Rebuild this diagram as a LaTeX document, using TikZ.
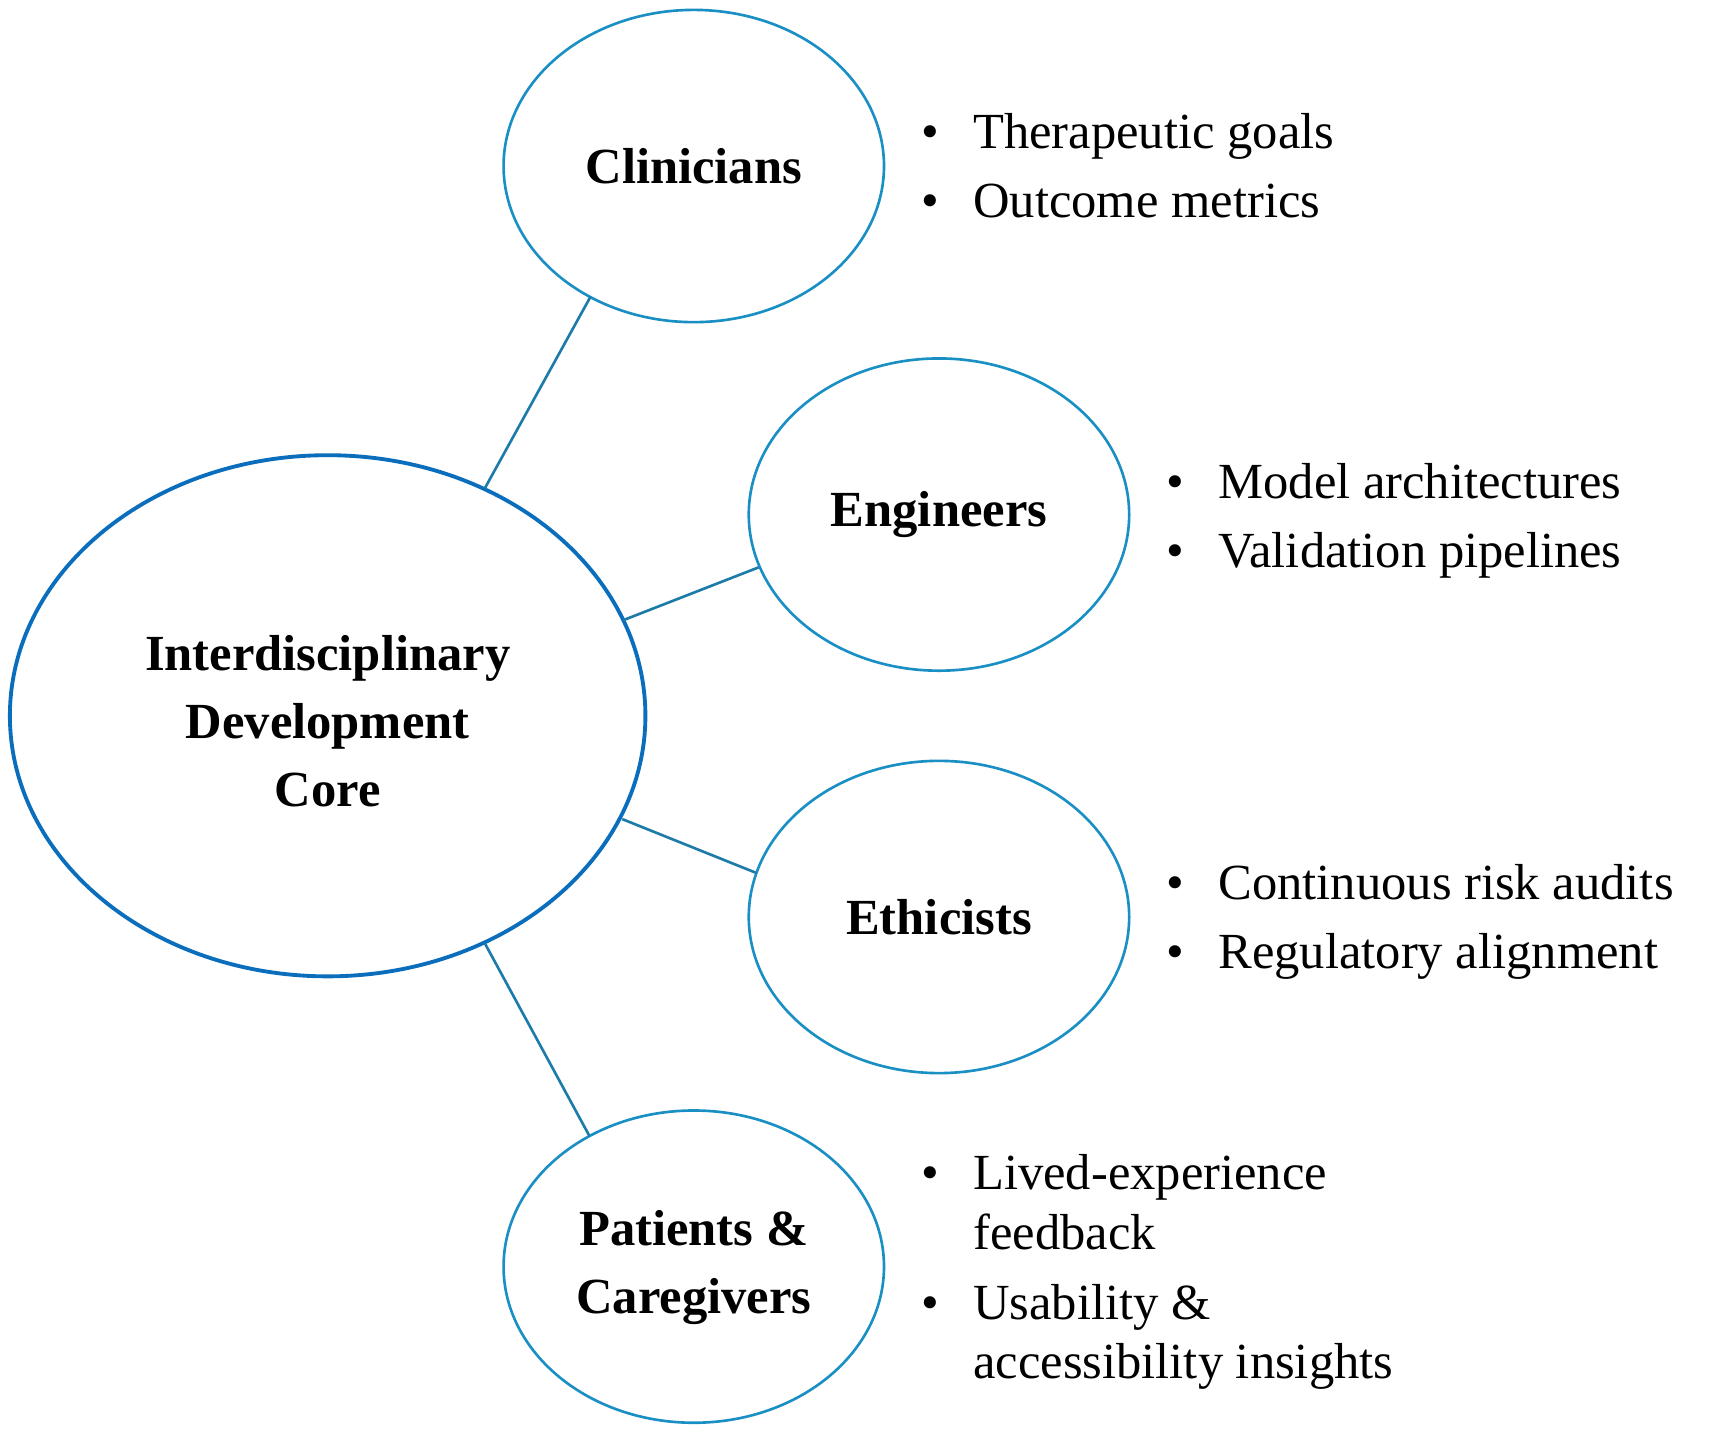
\documentclass[tikz,border=0pt]{standalone}
\usepackage{fontspec}
\setmainfont{Liberation Serif}
\begin{document}
\begin{tikzpicture}[x=1pt,y=-1pt,
  sub/.style={draw=subc,line width=2.4pt,ellipse,minimum width=346pt,minimum height=284pt},
  lbl/.style={font=\fontsize{46}{62}\selectfont\bfseries,align=center},
  item/.style={anchor=base west,font=\fontsize{46}{54}\selectfont,inner sep=0pt},
  conn/.style={draw=linec,line width=2.4pt}]
\definecolor{mainc}{HTML}{0A6EBD}
\definecolor{subc}{HTML}{1A8FC4}
\definecolor{linec}{HTML}{1C7BA8}
\useasboundingbox (0,0) rectangle (1568,1304);
\draw[mainc,line width=3.5pt] (298,651) ellipse [x radius=289,y radius=237];
\node[lbl] (core) at (298,656) {Interdisciplinary\\Development\\Core};
\draw[subc,line width=2.4pt] (631,151) ellipse [x radius=173,y radius=142];
\draw[subc,line width=2.4pt] (854,468) ellipse [x radius=173,y radius=142];
\draw[subc,line width=2.4pt] (854,834) ellipse [x radius=173,y radius=142];
\draw[subc,line width=2.4pt] (631,1152) ellipse [x radius=173,y radius=142];
\node[lbl] (cl) at (631,151) {Clinicians};
\node[lbl] (en) at (854,468) {Engineers};
\node[lbl] (et) at (854,834) {Ethicists};
\node[lbl] (pa) at (631,1153) {Patients \&\\Caregivers};
\coordinate (a1) at (441,444); \coordinate (a2) at (537,270);
\coordinate (b1) at (567,564); \coordinate (b2) at (690,516);
\coordinate (c1) at (566,745); \coordinate (c2) at (688,794);
\coordinate (d1) at (441,858); \coordinate (d2) at (536,1033);
\draw[conn] (a1) -- (a2);
\draw[conn] (b1) -- (b2);
\draw[conn] (c1) -- (c2);
\draw[conn] (d1) -- (d2);
\node[item] (t1b) at (838,135) {•}; \node[item] (t1) at (885,135) {Therapeutic goals};
\node[item] (t2b) at (838,198) {•}; \node[item] (t2) at (885,198) {Outcome metrics};
\node[item] (t3b) at (1061,453) {•}; \node[item] (t3) at (1108,453) {Model architectures};
\node[item] (t4b) at (1061,516) {•}; \node[item] (t4) at (1108,516) {Validation pipelines};
\node[item] (t5b) at (1061,818) {•}; \node[item] (t5) at (1108,818) {Continuous risk audits};
\node[item] (t6b) at (1061,881) {•}; \node[item] (t6) at (1108,881) {Regulatory alignment};
\node[item] (t7b) at (838,1082) {•}; \node[item] (t7) at (885,1082) {Lived-experience};
\node[item] (t7c) at (885,1136) {feedback};
\node[item] (t8b) at (838,1200) {•}; \node[item] (t8) at (885,1200) {Usability \&};
\node[item] (t8c) at (885,1254) {accessibility insights};
\end{tikzpicture}
\end{document}
